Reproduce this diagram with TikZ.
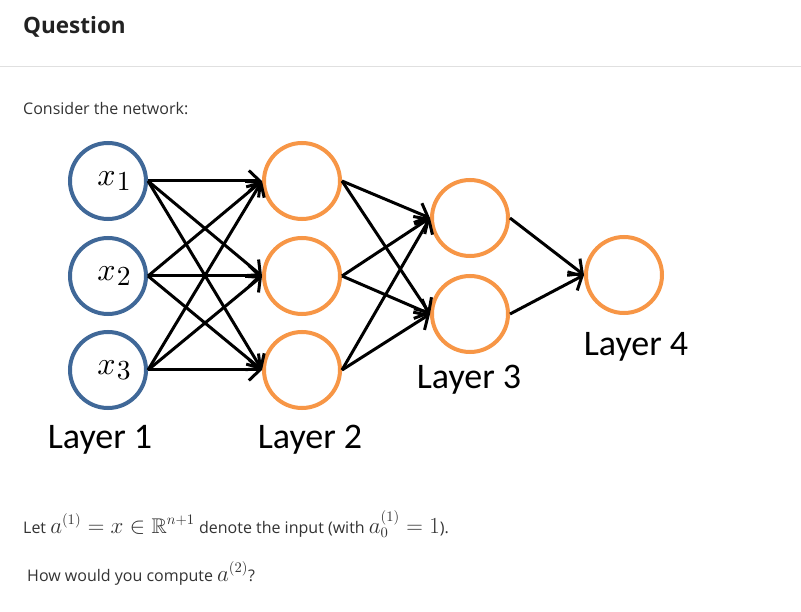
\documentclass[tikz,border=0pt]{standalone}
\usepackage{amsmath,amssymb}
\usepackage{graphicx}
\usepackage{fontspec}
\setmainfont{Open Sans}
\newfontfamily\layerfont{Carlito}
\usetikzlibrary{arrows.meta}
\definecolor{inblue}{RGB}{64,104,152}
\definecolor{unitorange}{RGB}{247,150,70}
\definecolor{headgray}{RGB}{34,34,34}
\definecolor{bodygray}{RGB}{51,51,51}
\definecolor{rulegray}{RGB}{224,224,224}
% inline formulas are set somewhat larger than the surrounding text
\newcommand{\bigmath}[1]{\scalebox{1.33}{$#1$}}
% input unit label: large x with a large, lowered index
\newcommand{\unitlabel}[1]{\hspace*{12pt}\scalebox{3.2}{$x$}\kern1pt\raisebox{-5pt}{\scalebox{2.75}{$#1$}}}
\begin{document}
\begin{tikzpicture}[x=1pt,y=-1pt,
  inunit/.style={circle,draw=inblue,line width=4pt,minimum size=76pt,inner sep=0pt,
    font=\fontsize{10}{12}\selectfont},
  hidunit/.style={circle,draw=unitorange,line width=4pt,minimum size=76pt,inner sep=0pt},
  wire/.style={line width=3pt,-{Straight Barb[length=11pt,width=21pt,line width=3pt]}},
  layerlabel/.style={font=\layerfont\fontsize{36}{38}\selectfont,text=black,inner sep=0pt},
  bodytext/.style={font=\fontsize{16}{18}\selectfont,text=bodygray,inner sep=0pt,anchor=base west}]
\useasboundingbox (0,0) rectangle (801,612);
\fill[white] (0,0) rectangle (801,612);

% header
\node[font=\bfseries\fontsize{22.5}{26}\selectfont,text=headgray,inner sep=0pt,anchor=base west] (title) at (23,34) {Question};
\draw[rulegray,line width=1pt] (0,67) -- (801,67);
\node[bodytext] (intro) at (23,115) {Consider the network:};

% layer 1
\node[inunit] (a1) at (108,181) {\unitlabel{1}};
\node[inunit] (a2) at (108,276) {\unitlabel{2}};
\node[inunit] (a3) at (108,370) {\unitlabel{3}};
% layer 2
\node[hidunit] (b1) at (302,181) {};
\node[hidunit] (b2) at (302,276) {};
\node[hidunit] (b3) at (302,370) {};
% layer 3
\node[hidunit] (c1) at (470,218) {};
\node[hidunit] (c2) at (470,314) {};
% layer 4
\node[hidunit] (d1) at (624,275) {};

% connections
\foreach \s in {a1,a2,a3}
  \foreach \t in {b1,b2,b3}
    \draw[wire] (\s.east) -- (\t.west);
\foreach \s in {b1,b2,b3}
  \foreach \t in {c1,c2}
    \draw[wire] (\s.east) -- (\t.west);
\foreach \s in {c1,c2}
  \draw[wire] (\s.east) -- (d1.west);

% layer labels
\node[layerlabel] (l1) at (100,440) {Layer 1};
\node[layerlabel] (l2) at (310,440) {Layer 2};
\node[layerlabel] (l3) at (469,380) {Layer 3};
\node[layerlabel] (l4) at (636,347) {Layer 4};

% question text
\node[bodytext] (let) at (23,533) {Let \bigmath{a^{(1)}=x\in\mathbb{R}^{n+1}} denote the input (with \bigmath{a^{(1)}_0=1}).};
\node[bodytext] (ask) at (27,581) {How would you compute \bigmath{a^{(2)}}?};
\end{tikzpicture}
\end{document}
